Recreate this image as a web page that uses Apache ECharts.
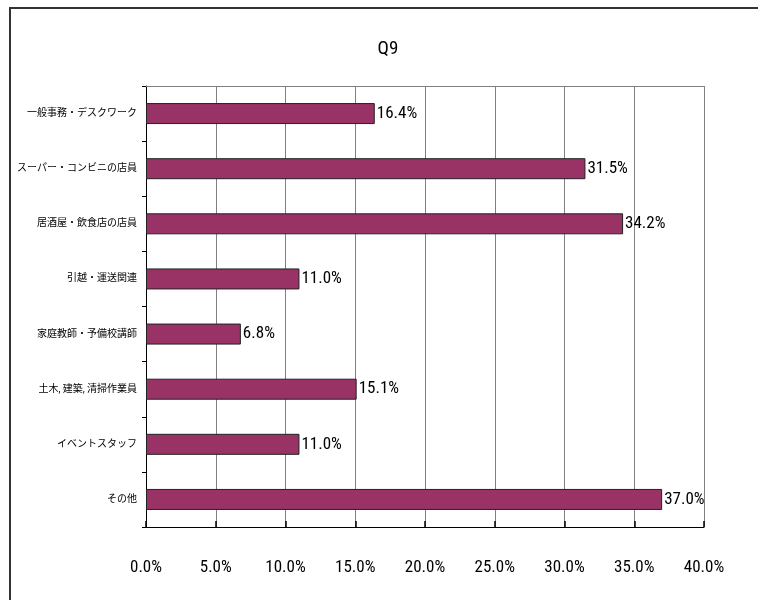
<!DOCTYPE html>
<html>
<head>
<meta charset="utf-8">
<script src="https://cdn.jsdelivr.net/npm/echarts@6/dist/echarts.min.js"></script>
<style>
html,body{margin:0;padding:0;background:#fff;}
#c{width:758px;height:600px;}
</style>
</head>
<body>
<div id="c"></div>
<script>
var categories = ['一般事務・デスクワーク','スーパー・コンビニの店員','居酒屋・飲食店の店員','引越・運送関連','家庭教師・予備校講師','土木, 建築, 清掃作業員','イベントスタッフ','その他'];
var values = [16.4, 31.5, 34.2, 11.0, 6.8, 15.1, 11.0, 37.0];
var xMin = 0, xMax = 40, xStep = 5;
var titleText = 'Q9';

var NUM_FONT = 'Roboto, "Open Sans", sans-serif';
var CJK_FONT = 'Roboto, "Noto Sans CJK JP", sans-serif';

var chart = echarts.init(document.getElementById('c'), null, {renderer:'canvas'});
chart.setOption({
  backgroundColor: '#fff',
  animation: false,
  title: {
    text: titleText,
    left: 383, top: 35,
    textAlign: 'center',
    textStyle: {fontFamily: NUM_FONT, fontStyle: 'condensed', fontSize: 19, fontWeight: 'normal', color: '#000'}
  },
  graphic: [{
    type: 'rect',
    shape: {x: 10, y: 8, width: 800, height: 700},
    style: {fill: 'none', stroke: '#333', lineWidth: 2},
    silent: true
  }],
  grid: {left: 146, top: 86, width: 558, height: 441, containLabel: false},
  xAxis: [{
    type: 'value', min: xMin, max: xMax, interval: xStep,
    position: 'bottom',
    axisLine: {show: true, lineStyle: {color: '#000', width: 1}},
    axisTick: {show: true, inside: true, length: 6, lineStyle: {color: '#000', width: 1.5}},
    splitLine: {show: true, lineStyle: {color: '#808080', width: 1}},
    axisLabel: {
      margin: 32, fontFamily: NUM_FONT, fontStyle: 'condensed', fontSize: 17, color: '#000',
      formatter: function (v) { return v.toFixed(1) + '%'; }
    }
  }, {
    type: 'value', min: xMin, max: xMax, interval: xStep,
    position: 'top',
    axisLine: {show: true, lineStyle: {color: '#808080', width: 1}},
    axisTick: {show: false}, axisLabel: {show: false}, splitLine: {show: false}
  }],
  yAxis: {
    type: 'category', data: categories, inverse: true,
    axisLine: {show: true, lineStyle: {color: '#000', width: 1}},
    axisTick: {show: true, length: 4, lineStyle: {color: '#000'}},
    axisLabel: {margin: 9, fontFamily: CJK_FONT, fontStyle: 'condensed', fontSize: 10, color: '#000'}
  },
  series: [{
    type: 'bar', data: values, xAxisIndex: 0,
    barWidth: 21,
    itemStyle: {color: '#993366', borderColor: '#222', borderWidth: 1},
    label: {
      show: true, position: 'right', distance: 2,
      fontFamily: NUM_FONT, fontStyle: 'condensed', fontSize: 17, color: '#000',
      formatter: function (p) { return p.value.toFixed(1) + '%'; }
    }
  }]
});
</script>
</body>
</html>
